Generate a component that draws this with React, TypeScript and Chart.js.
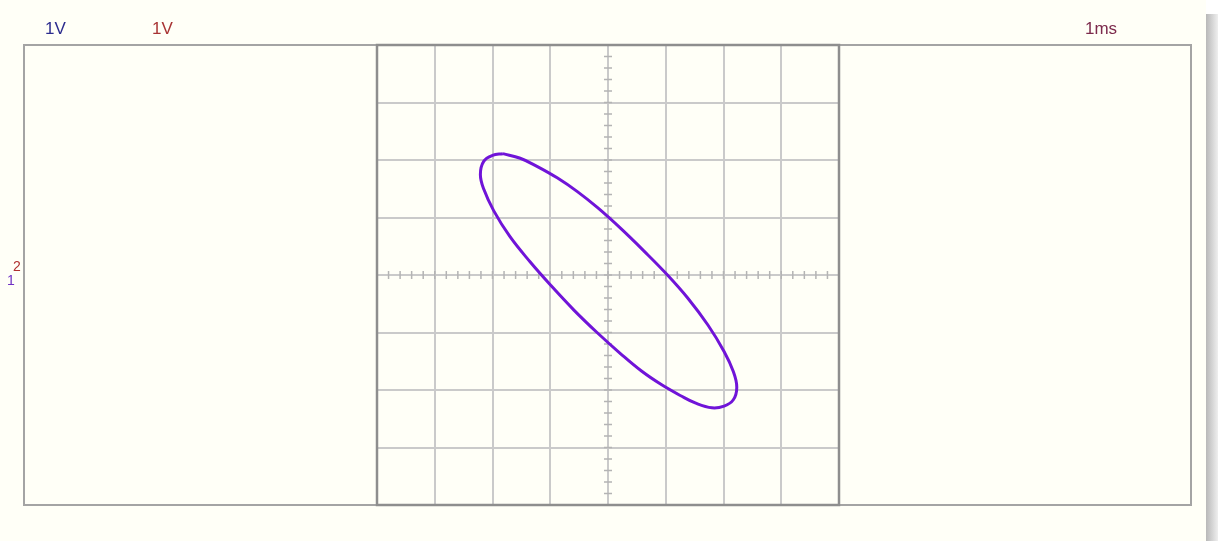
import React, { useEffect, useRef } from "react";
import { Chart, registerables } from "chart.js";

Chart.register(...registerables);

const traceX = [
  -1.82, -1.52, -1.23, -0.88, -0.53, -0.18, 0.22, 0.62, 1.03, 1.38, 1.73, 2.01,
  2.17, 2.23, 2.17, 2.01, 1.8, 1.52, 1.26, 0.93, 0.58, 0.22, -0.19, -0.59, -1.0,
  -1.35, -1.7, -1.98, -2.15, -2.21, -2.15, -2.0, -1.82,
];
const traceY = [
  2.11, 2.03, 1.89, 1.69, 1.45, 1.17, 0.81, 0.42, 0.0, -0.4, -0.87, -1.33,
  -1.68, -1.95, -2.17, -2.28, -2.31, -2.23, -2.1, -1.91, -1.67, -1.37, -1.0,
  -0.61, -0.17, 0.23, 0.67, 1.12, 1.49, 1.75, 1.98, 2.08, 2.11,
];

const divisions = [-4, 4];
const ch1Label = "1V";
const ch2Label = "1V";
const timeLabel = "1ms";
const markerLabel = "1";
const markerSup = "2";

const OUTER = { left: 24, top: 45, right: 1191, bottom: 505 };

const framePlugin = {
  id: "scopeFrame",
  beforeDatasetsDraw(chart: any) {
    const { ctx, chartArea, scales } = chart;
    const xs = scales.x;
    const ys = scales.y;
    ctx.save();
    // outer screen box
    ctx.strokeStyle = "#a4a4a4";
    ctx.lineWidth = 2;
    ctx.strokeRect(OUTER.left, OUTER.top, OUTER.right - OUTER.left, OUTER.bottom - OUTER.top);
    // minor ticks on the centre cross
    const cx = xs.getPixelForValue(0);
    const cy = ys.getPixelForValue(0);
    ctx.strokeStyle = "#b4b4b4";
    ctx.lineWidth = 1.5;
    ctx.beginPath();
    for (let i = -20; i <= 20; i++) {
      const v = i / 5;
      const px = xs.getPixelForValue(v);
      ctx.moveTo(px, cy - 4);
      ctx.lineTo(px, cy + 4);
      const py = ys.getPixelForValue(v);
      ctx.moveTo(cx - 4, py);
      ctx.lineTo(cx + 4, py);
    }
    ctx.stroke();
    // inner graticule frame
    ctx.strokeStyle = "#8e8e8e";
    ctx.lineWidth = 2.5;
    ctx.strokeRect(
      chartArea.left,
      chartArea.top,
      chartArea.right - chartArea.left,
      chartArea.bottom - chartArea.top
    );
    ctx.restore();
  },
};

export default function App() {
  const ref = useRef<HTMLCanvasElement | null>(null);

  useEffect(() => {
    if (!ref.current) return;
    const data = traceX.map((x, i) => ({ x, y: traceY[i] }));
    const gridOpts = {
      color: "#cacaca",
      lineWidth: 2,
      drawTicks: false,
    };
    const chart = new Chart(ref.current, {
      type: "scatter",
      data: {
        datasets: [
          {
            data,
            showLine: true,
            borderColor: "#7014d8",
            borderWidth: 3,
            pointRadius: 0,
            tension: 0.4,
            fill: false,
          },
        ],
      },
      options: {
        responsive: false,
        animation: false,
        layout: { padding: { left: 377, right: 379, top: 45, bottom: 36 } },
        plugins: { legend: { display: false }, tooltip: { enabled: false } },
        scales: {
          x: {
            type: "linear",
            min: divisions[0],
            max: divisions[1],
            ticks: { display: false, stepSize: 1 },
            grid: gridOpts,
            border: { display: false },
          },
          y: {
            type: "linear",
            min: divisions[0],
            max: divisions[1],
            ticks: { display: false, stepSize: 1 },
            grid: gridOpts,
            border: { display: false },
          },
        },
      },
      plugins: [framePlugin],
    });
    return () => chart.destroy();
  }, []);

  const font = "'Liberation Sans', Arial, sans-serif";
  const lbl = (left: number, top: number, color: string, text: string, size = 17) => (
    <span
      style={{
        position: "absolute",
        left,
        top,
        color,
        fontFamily: font,
        fontSize: size,
        lineHeight: 1,
        whiteSpace: "nowrap",
      }}
    >
      {text}
    </span>
  );

  return (
    <div
      style={{
        position: "fixed",
        left: 0,
        top: 0,
        width: 1218,
        height: 541,
        background: "#ffffff",
        overflow: "hidden",
      }}
    >
      <div
        style={{
          position: "absolute",
          left: 0,
          top: 0,
          width: 1206,
          height: 541,
          background: "#fffff7",
        }}
      />
      <div
        style={{
          position: "absolute",
          left: 1206,
          top: 14,
          width: 12,
          height: 527,
          background: "linear-gradient(to right, #b8b8b8, #efefef)",
        }}
      />
      <canvas
        ref={ref}
        width={1218}
        height={541}
        style={{ position: "absolute", left: 0, top: 0 }}
      />
      {lbl(45, 20, "#2c2c8e", ch1Label)}
      {lbl(152, 20, "#a83434", ch2Label)}
      {lbl(1085, 20, "#7c2a4c", timeLabel)}
      {lbl(7, 273, "#6f30c4", markerLabel, 14)}
      {lbl(13, 259, "#b03030", markerSup, 14)}
    </div>
  );
}
